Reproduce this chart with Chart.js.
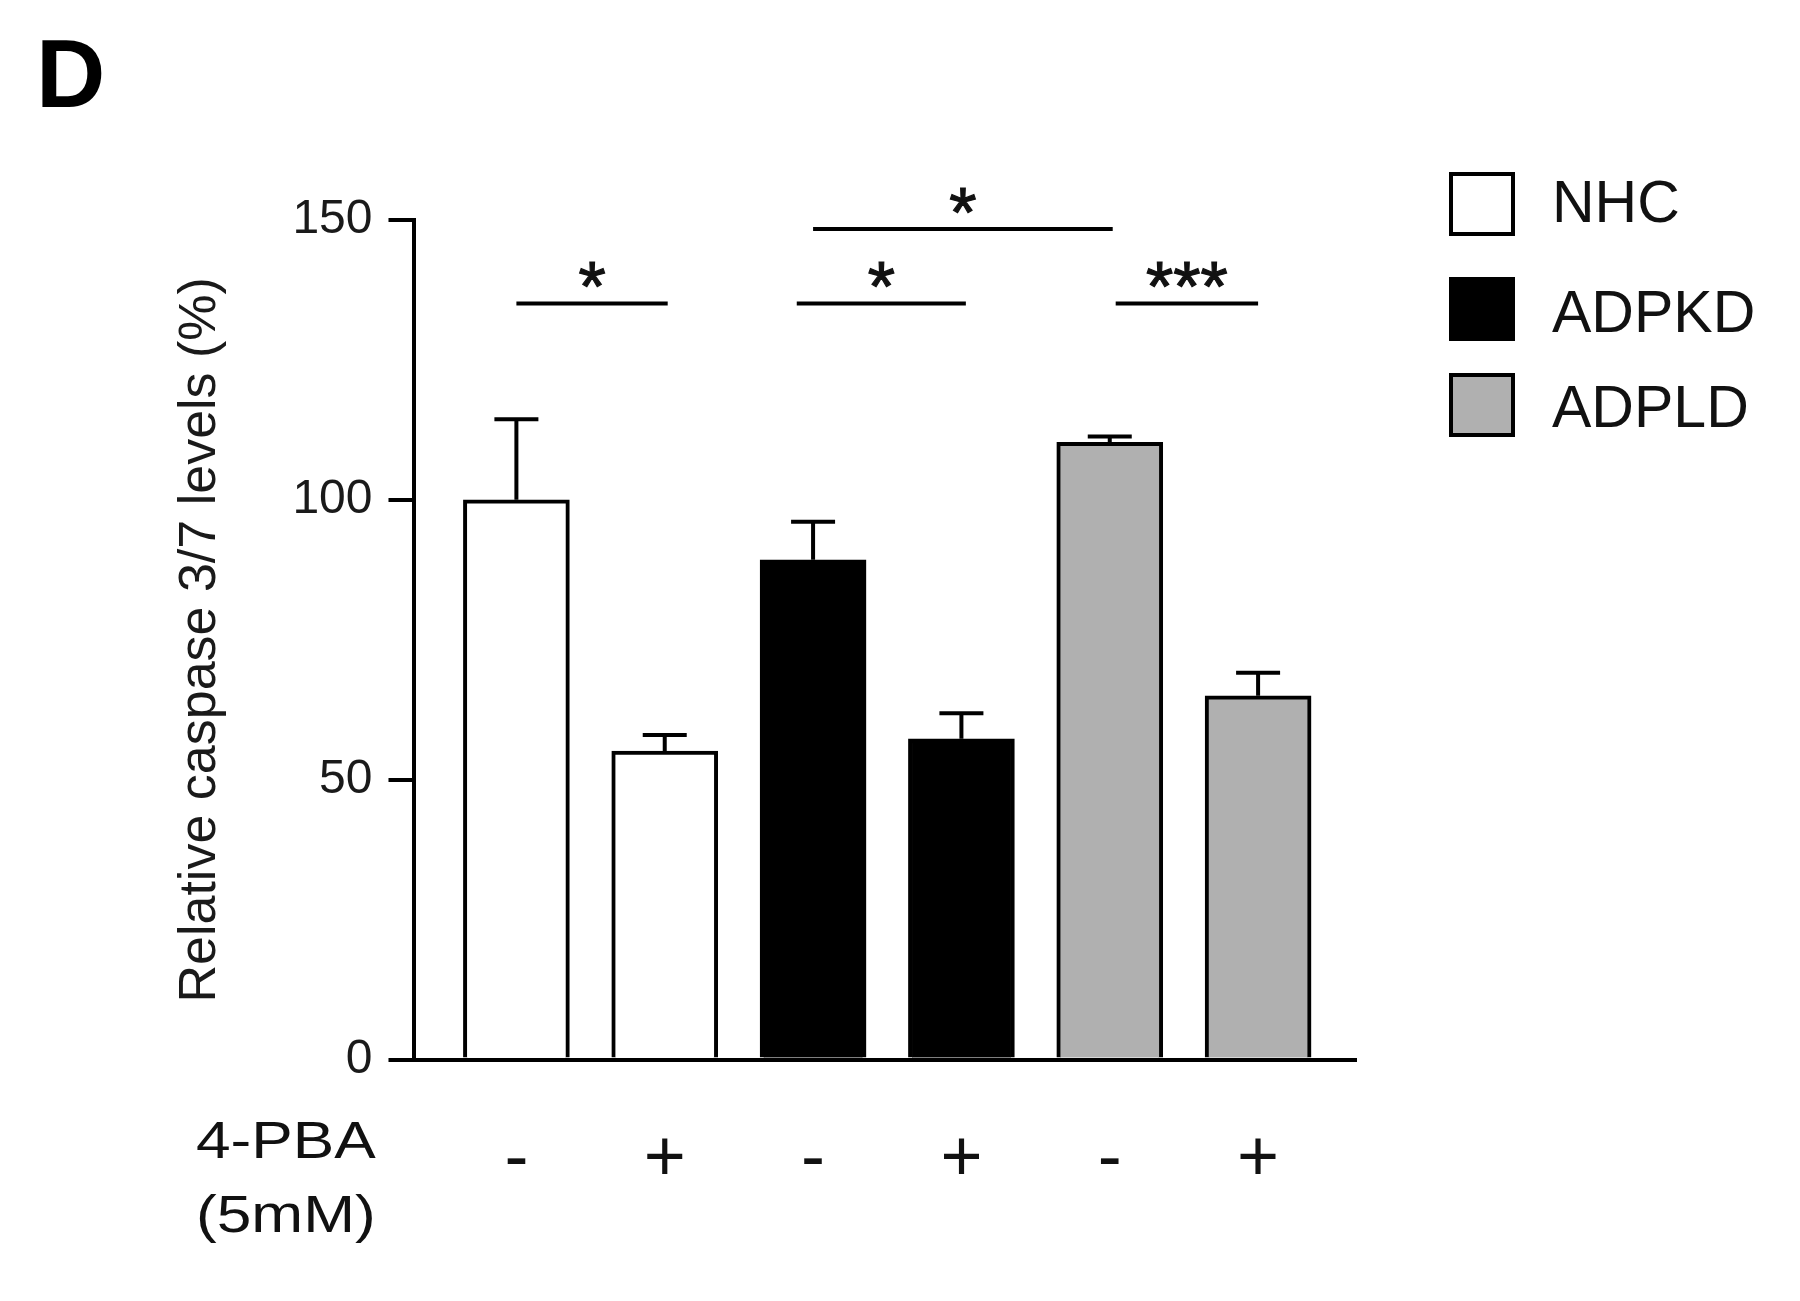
<!DOCTYPE html>
<html>
<head>
<meta charset="utf-8">
<script src="https://cdn.jsdelivr.net/npm/chart.js@4/dist/chart.umd.min.js"></script>
<style>
html,body{margin:0;padding:0;background:#ffffff;}
#wrap{width:1800px;height:1301px;position:relative;}
</style>
</head>
<body>
<div id="wrap"><canvas id="c" width="1800" height="1301"></canvas></div>
<script>
// ---------- data ----------
const groups = ['NHC', 'ADPKD', 'ADPLD'];
const groupColors = ['#ffffff', '#000000', '#b0b0b0'];
const treatment = ['-', '+', '-', '+', '-', '+'];
const positions = [0, 1, 2, 3, 4, 5];
const nhcValues = [100, 55.1];
const adpkdValues = [89.3, 57.3];
const adpldValues = [110.3, 65.0];
const nhcErrors = [14.4, 2.9];
const adpkdErrors = [6.8, 4.6];
const adpldErrors = [1.0, 4.1];
const yTicks = [0, 50, 100, 150];
const sigFrom = [0, 1.89, 2.0, 4.04];
const sigTo = [1.02, 3.03, 4.02, 5.0];
const sigLevel = [135.1, 135.1, 148.4, 135.1];
const sigLabel = ['*', '*', '*', '***'];
const panelLabel = 'D';
const xTitleLines = ['4-PBA', '(5mM)'];
const yTitle = 'Relative caspase 3/7 levels (%)';

// ---------- style ----------
const FONT = "'Liberation Sans', Arial, Helvetica, sans-serif";
const INK = '#111111';

const groupValues = [nhcValues, adpkdValues, adpldValues];
const groupErrors = [nhcErrors, adpkdErrors, adpldErrors];

const datasets = groups.map((g, gi) => ({
  label: g,
  data: groupValues[gi].map((v, j) => ({ x: positions[gi * 2 + j], y: v })),
  errors: groupErrors[gi],
  backgroundColor: groupColors[gi],
  borderColor: '#000000',
  borderWidth: 4,
  borderSkipped: 'start',
  grouped: false,
  barThickness: 106
}));

const errorBarPlugin = {
  id: 'errorBars',
  afterDatasetsDraw(chart) {
    const ctx = chart.ctx;
    const ys = chart.scales.y;
    ctx.save();
    ctx.strokeStyle = '#000';
    ctx.lineWidth = 4;
    ctx.lineCap = 'butt';
    chart.data.datasets.forEach((ds, di) => {
      const meta = chart.getDatasetMeta(di);
      meta.data.forEach((bar, j) => {
        const v = ds.data[j].y;
        const e = ds.errors[j];
        const yTop = ys.getPixelForValue(v + e);
        const yBar = ys.getPixelForValue(v);
        ctx.beginPath();
        ctx.moveTo(bar.x, yBar);
        ctx.lineTo(bar.x, yTop);
        ctx.moveTo(bar.x - 22, yTop);
        ctx.lineTo(bar.x + 22, yTop);
        ctx.stroke();
      });
    });
    ctx.restore();
  }
};

const sigPlugin = {
  id: 'significance',
  afterDatasetsDraw(chart) {
    const ctx = chart.ctx;
    const xs = chart.scales.x, ys = chart.scales.y;
    ctx.save();
    ctx.strokeStyle = '#000';
    ctx.fillStyle = INK;
    ctx.lineWidth = 4;
    ctx.lineCap = 'butt';
    ctx.font = '70px ' + FONT;
    ctx.textAlign = 'center';
    ctx.textBaseline = 'alphabetic';
    sigFrom.forEach((f, i) => {
      const x1 = xs.getPixelForValue(f);
      const x2 = xs.getPixelForValue(sigTo[i]);
      const y = ys.getPixelForValue(sigLevel[i]);
      ctx.beginPath();
      ctx.moveTo(x1, y);
      ctx.lineTo(x2, y);
      ctx.stroke();
      ctx.lineWidth = 1.2;
      ctx.strokeStyle = INK;
      ctx.strokeText(sigLabel[i], (x1 + x2) / 2, y + 8);
      ctx.fillText(sigLabel[i], (x1 + x2) / 2, y + 8);
      ctx.lineWidth = 4;
      ctx.strokeStyle = '#000';
    });
    ctx.restore();
  }
};

const annotationPlugin = {
  id: 'annotations',
  afterDraw(chart) {
    const ctx = chart.ctx;
    ctx.save();
    // panel label
    ctx.fillStyle = '#000';
    ctx.font = 'bold 96px ' + FONT;
    ctx.textAlign = 'left';
    ctx.textBaseline = 'alphabetic';
    ctx.fillText(panelLabel, 36, 107);
    // treatment label (bottom left), slightly wide lettering
    ctx.fillStyle = INK;
    ctx.font = '51px ' + FONT;
    const baselines = [1158, 1232];
    xTitleLines.forEach((t, i) => {
      ctx.save();
      ctx.translate(196, baselines[i]);
      ctx.scale(1.22, 1);
      ctx.fillText(t, 0, 0);
      ctx.restore();
    });
    // legend
    const boxTops = [172, 277, 373];
    const textBase = [222, 332, 427];
    ctx.font = '59px ' + FONT;
    chart.data.datasets.forEach((ds, i) => {
      const bx = 1449, by = boxTops[i], bw = 66, bh = 64;
      ctx.fillStyle = ds.backgroundColor;
      ctx.fillRect(bx, by, bw, bh);
      ctx.strokeStyle = '#000';
      ctx.lineWidth = 4;
      ctx.strokeRect(bx + 2, by + 2, bw - 4, bh - 4);
      ctx.fillStyle = INK;
      ctx.fillText(ds.label, 1552, textBase[i]);
    });
    ctx.restore();
  }
};

new Chart(document.getElementById('c'), {
  type: 'bar',
  data: { datasets },
  options: {
    responsive: false,
    animation: false,
    devicePixelRatio: 1,
    layout: { padding: { left: 148, right: 444, top: 220, bottom: 49 } },
    plugins: { legend: { display: false }, tooltip: { enabled: false } },
    scales: {
      x: {
        type: 'linear',
        min: -0.687,
        max: 5.66,
        offset: false,
        grid: { display: false },
        border: { display: true, color: '#000', width: 4 },
        afterBuildTicks: s => { s.ticks = positions.map(v => ({ value: v })); },
        ticks: {
          autoSkip: false,
          maxRotation: 0,
          minRotation: 0,
          padding: 49,
          color: INK,
          font: { family: FONT, size: 72 },
          callback: v => treatment[v]
        }
      },
      y: {
        min: 0,
        max: 150,
        afterBuildTicks: s => { s.ticks = yTicks.map(v => ({ value: v })); },
        grid: { drawOnChartArea: false, drawTicks: true, tickLength: 26, lineWidth: 4, color: '#000' },
        border: { display: true, color: '#000', width: 4 },
        ticks: { padding: 16, color: '#1a1a1a', font: { family: FONT, size: 48 } },
        title: {
          display: true,
          text: yTitle,
          color: '#1a1a1a',
          font: { family: FONT, size: 52 },
          padding: { top: 21, bottom: 45 }
        }
      }
    }
  },
  plugins: [errorBarPlugin, sigPlugin, annotationPlugin]
});
</script>
</body>
</html>
